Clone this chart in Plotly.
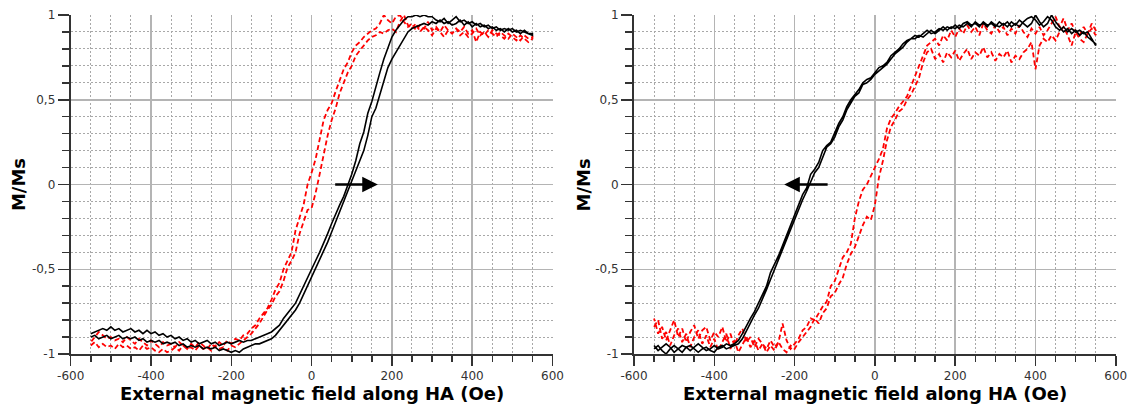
import plotly.graph_objects as go

# Field sweep (Oe)
FIELD = [-550, -540, -530, -520, -510, -500, -490, -480, -470, -460,
         -450, -440, -430, -420, -410, -400, -390, -380, -370, -360,
         -350, -340, -330, -320, -310, -300, -290, -280, -270, -260,
         -250, -240, -230, -220, -210, -200, -190, -180, -170, -160,
         -150, -140, -130, -120, -110, -100, -90, -80, -70, -60,
         -50, -40, -30, -20, -10, 0, 10, 20, 30, 40,
         50, 60, 70, 80, 90, 100, 110, 120, 130, 140,
         150, 160, 170, 180, 190, 200, 210, 220, 230, 240,
         250, 260, 270, 280, 290, 300, 310, 320, 330, 340,
         350, 360, 370, 380, 390, 400, 410, 420, 430, 440,
         450, 460, 470, 480, 490, 500, 510, 520, 530, 540,
         550]

# ---- Left panel, black loop ----
L_BLACK_DOWN = [-0.88, -0.87, -0.86, -0.85, -0.86, -0.84, -0.86, -0.85, -0.87, -0.86,
                -0.85, -0.87, -0.86, -0.88, -0.86, -0.88, -0.87, -0.89, -0.88, -0.90,
                -0.89, -0.91, -0.90, -0.92, -0.91, -0.93, -0.92, -0.94, -0.93, -0.92,
                -0.94, -0.93, -0.95, -0.94, -0.93, -0.94, -0.93, -0.92, -0.93, -0.92,
                -0.92, -0.91, -0.90, -0.89, -0.88, -0.87, -0.85, -0.83, -0.79, -0.76,
                -0.73, -0.70, -0.65, -0.60, -0.55, -0.50, -0.45, -0.40, -0.35, -0.29,
                -0.23, -0.17, -0.12, -0.07, -0.01, 0.06, 0.14, 0.24, 0.31, 0.42,
                0.49, 0.57, 0.66, 0.74, 0.81, 0.87, 0.91, 0.94, 0.97, 0.99,
                0.99, 1.00, 0.99, 1.00, 0.99, 0.99, 0.97, 0.96, 0.98, 0.95,
                0.97, 0.99, 0.96, 0.97, 0.95, 0.96, 0.94, 0.95, 0.93, 0.94,
                0.92, 0.93, 0.91, 0.92, 0.91, 0.92, 0.90, 0.91, 0.90, 0.89,
                0.88]
L_BLACK_UP = [-0.90, -0.89, -0.91, -0.90, -0.89, -0.91, -0.90, -0.89, -0.91, -0.90,
              -0.91, -0.90, -0.92, -0.91, -0.93, -0.92, -0.93, -0.92, -0.94, -0.93,
              -0.94, -0.93, -0.95, -0.94, -0.96, -0.95, -0.96, -0.95, -0.97, -0.96,
              -0.97, -0.96, -0.98, -0.97, -0.98, -0.99, -0.98, -0.99, -0.97, -0.96,
              -0.95, -0.94, -0.94, -0.93, -0.92, -0.91, -0.89, -0.86, -0.83, -0.80,
              -0.77, -0.74, -0.70, -0.65, -0.59, -0.54, -0.49, -0.44, -0.39, -0.34,
              -0.28, -0.22, -0.16, -0.11, -0.05, 0.01, 0.07, 0.13, 0.20, 0.29,
              0.40, 0.45, 0.53, 0.62, 0.69, 0.74, 0.78, 0.82, 0.86, 0.90,
              0.92, 0.93, 0.94, 0.95, 0.94, 0.96, 0.95, 0.97, 0.95, 0.96,
              0.94, 0.95, 0.97, 0.94, 0.96, 0.93, 0.95, 0.93, 0.94, 0.92,
              0.93, 0.91, 0.92, 0.90, 0.92, 0.90, 0.91, 0.89, 0.91, 0.89,
              0.89]

# ---- Left panel, red dashed loop ----
L_RED_DOWN = [-0.93, -0.90, -0.87, -0.89, -0.91, -0.90, -0.92, -0.91, -0.93, -0.90,
              -0.92, -0.94, -0.91, -0.93, -0.95, -0.92, -0.94, -0.96, -0.93, -0.95,
              -0.94, -0.96, -0.93, -0.95, -0.97, -0.94, -0.96, -0.93, -0.95, -0.97,
              -0.94, -0.96, -0.93, -0.95, -0.92, -0.94, -0.91, -0.92, -0.89, -0.88,
              -0.85, -0.83, -0.79, -0.76, -0.73, -0.68, -0.62, -0.58, -0.50, -0.45,
              -0.40, -0.27, -0.19, -0.12, 0.00, 0.07, 0.15, 0.27, 0.38, 0.44,
              0.48, 0.55, 0.62, 0.68, 0.72, 0.78, 0.82, 0.84, 0.87, 0.89,
              0.91, 0.92, 0.95, 1.00, 0.97, 0.95, 0.99, 1.00, 0.96, 0.93,
              0.95, 0.91, 0.94, 0.92, 0.96, 0.91, 0.93, 0.90, 0.94, 0.91,
              0.89, 0.92, 0.90, 0.93, 0.89, 0.91, 0.84, 0.90, 0.88, 0.91,
              0.89, 0.87, 0.90, 0.88, 0.86, 0.89, 0.87, 0.85, 0.88, 0.86,
              0.87]
L_RED_UP = [-0.95, -0.93, -0.96, -0.94, -0.96, -0.95, -0.97, -0.94, -0.96, -0.95,
            -0.97, -0.96, -0.98, -0.95, -0.97, -0.96, -0.98, -0.99, -0.97, -0.99,
            -0.98, -0.96, -0.98, -0.95, -0.97, -0.96, -0.98, -0.95, -0.97, -0.96,
            -0.98, -0.95, -0.97, -0.96, -0.98, -0.95, -0.96, -0.94, -0.92, -0.90,
            -0.88, -0.85, -0.82, -0.78, -0.74, -0.71, -0.66, -0.63, -0.57, -0.49,
            -0.45, -0.40, -0.29, -0.22, -0.15, -0.14, -0.05, 0.06, 0.18, 0.29,
            0.38, 0.45, 0.54, 0.60, 0.66, 0.70, 0.76, 0.79, 0.82, 0.85,
            0.87, 0.88, 0.90, 0.89, 0.91, 0.92, 0.90, 0.96, 1.00, 0.94,
            0.92, 0.95, 0.90, 0.93, 0.91, 0.88, 0.92, 0.90, 0.87, 0.91,
            0.89, 0.92, 0.88, 0.90, 0.87, 0.89, 0.92, 0.88, 0.90, 0.87,
            0.91, 0.89, 0.88, 0.86, 0.89, 0.87, 0.85, 0.88, 0.86, 0.84,
            0.86]

# ---- Right panel, black loop ----
R_BLACK_DOWN = [-0.95, -0.98, -0.96, -0.94, -0.96, -0.99, -0.97, -0.95, -0.96, -0.98,
                -0.96, -0.94, -0.96, -0.98, -0.97, -0.95, -0.97, -0.96, -0.94, -0.95,
                -0.94, -0.92, -0.88, -0.84, -0.79, -0.75, -0.71, -0.65, -0.60, -0.52,
                -0.47, -0.42, -0.36, -0.31, -0.24, -0.18, -0.12, -0.06, -0.02, 0.06,
                0.09, 0.13, 0.20, 0.23, 0.25, 0.30, 0.36, 0.40, 0.46, 0.50,
                0.53, 0.56, 0.60, 0.62, 0.63, 0.66, 0.69, 0.70, 0.72, 0.76,
                0.78, 0.80, 0.83, 0.85, 0.86, 0.88, 0.87, 0.89, 0.91, 0.89,
                0.90, 0.92, 0.91, 0.93, 0.92, 0.94, 0.92, 0.95, 0.96, 0.94,
                0.95, 0.93, 0.96, 0.94, 0.95, 0.93, 0.96, 0.94, 0.96, 0.93,
                0.95, 0.93, 0.96, 0.98, 0.99, 0.97, 0.94, 0.96, 0.99, 0.97,
                0.93, 0.91, 0.93, 0.90, 0.92, 0.90, 0.91, 0.89, 0.90, 0.86,
                0.82]
R_BLACK_UP = [-0.97, -0.95, -0.98, -1.00, -0.97, -0.95, -0.97, -0.99, -0.96, -0.95,
              -0.97, -0.99, -0.97, -0.96, -0.98, -0.99, -0.96, -0.95, -0.97, -0.96,
              -0.95, -0.94, -0.91, -0.86, -0.82, -0.77, -0.73, -0.68, -0.62, -0.56,
              -0.50, -0.44, -0.39, -0.33, -0.27, -0.21, -0.15, -0.09, -0.04, 0.02,
              0.07, 0.10, 0.16, 0.22, 0.24, 0.28, 0.34, 0.38, 0.44, 0.48,
              0.52, 0.54, 0.59, 0.60, 0.62, 0.65, 0.67, 0.69, 0.71, 0.74,
              0.77, 0.79, 0.81, 0.84, 0.86, 0.86, 0.88, 0.87, 0.89, 0.91,
              0.89, 0.91, 0.93, 0.91, 0.93, 0.92, 0.94, 0.93, 0.95, 0.93,
              0.96, 0.94, 0.95, 0.93, 0.96, 0.94, 0.93, 0.95, 0.93, 0.96,
              0.94, 0.97, 0.95, 0.93, 0.95, 1.00, 0.96, 0.93, 0.95, 1.00,
              0.96, 0.93, 0.90, 0.92, 0.89, 0.91, 0.88, 0.90, 0.87, 0.85,
              0.83]

# ---- Right panel, red dashed loop ----
R_RED_DOWN = [-0.79, -0.88, -0.84, -0.92, -0.86, -0.80, -0.90, -0.85, -0.93, -0.87,
              -0.83, -0.91, -0.86, -0.84, -0.92, -0.87, -0.90, -0.84, -0.93, -0.88,
              -0.95, -0.89, -0.85, -0.93, -0.90, -0.96, -0.91, -0.94, -0.97, -0.92,
              -0.96, -0.93, -0.82, -0.92, -0.97, -0.94, -0.91, -0.86, -0.84, -0.79,
              -0.80, -0.76, -0.72, -0.69, -0.60, -0.57, -0.50, -0.43, -0.40, -0.35,
              -0.20, -0.10, -0.03, 0.00, 0.04, 0.10, 0.15, 0.21, 0.33, 0.39,
              0.42, 0.46, 0.49, 0.52, 0.58, 0.63, 0.70, 0.76, 0.82, 0.84,
              0.86, 0.82, 0.88, 0.85, 0.91, 0.87, 0.92, 0.89, 0.94, 0.90,
              0.93, 0.88, 0.95, 0.91, 0.89, 0.94, 0.90, 0.93, 0.88, 0.92,
              0.89, 0.94, 0.90, 0.87, 0.92, 0.89, 0.93, 0.88, 0.91, 0.95,
              0.99, 0.93, 0.98, 0.91, 0.95, 0.90, 0.88, 0.93, 0.89, 0.95,
              0.91]
R_RED_UP = [-0.84, -0.80, -0.91, -0.87, -0.95, -0.89, -0.85, -0.93, -0.88, -0.96,
            -0.90, -0.86, -0.94, -0.89, -0.96, -0.91, -0.98, -0.93, -0.88, -0.97,
            -0.92, -0.99, -0.94, -0.90, -0.96, -0.92, -0.98, -0.94, -0.99, -0.95,
            -0.98, -0.93, -0.97, -0.99, -0.95, -0.97, -0.93, -0.90, -0.87, -0.84,
            -0.79, -0.82, -0.76, -0.73, -0.66, -0.64, -0.59, -0.55, -0.47, -0.41,
            -0.37, -0.30, -0.24, -0.19, -0.21, -0.12, 0.04, 0.14, 0.26, 0.34,
            0.38, 0.43, 0.45, 0.50, 0.53, 0.58, 0.63, 0.72, 0.78, 0.80,
            0.74, 0.77, 0.72, 0.78, 0.75, 0.79, 0.73, 0.77, 0.80, 0.74,
            0.78, 0.76, 0.81, 0.75, 0.78, 0.73, 0.77, 0.75, 0.79, 0.72,
            0.76, 0.74, 0.78, 0.80, 0.84, 0.68, 0.82, 0.86, 0.84, 0.88,
            0.85, 0.90, 0.93, 0.88, 0.82, 0.90, 0.86, 0.84, 0.89, 0.92,
            0.88]

X_TICKS = [-600, -400, -200, 0, 200, 400, 600]
X_LABELS = ["-600", "-400", "-200", "0", "200", "400", "600"]
Y_TICKS = [-1, -0.5, 0, 0.5, 1]
Y_LABELS = ["-1", "-0,5", "0", "0,5", "1"]
X_TITLE = "External magnetic field along HA (Oe)"
Y_TITLE = "M/Ms"
ARROW_LEFT = (55, 165)     # tail, tip (Oe) at M/Ms = 0
ARROW_RIGHT = (-114, -226)

for arr in (L_BLACK_DOWN, L_BLACK_UP, L_RED_DOWN, L_RED_UP,
            R_BLACK_DOWN, R_BLACK_UP, R_RED_DOWN, R_RED_UP):
    assert len(arr) == len(FIELD), len(arr)

W, H = 1129, 405
fig = go.Figure()

def loop(up, down):
    return FIELD + FIELD[::-1], up + down[::-1]

black = dict(color="#000000", width=1.6)
red = dict(color="#ff0000", width=1.8, dash="5px,3px")

x, y = loop(L_RED_UP, L_RED_DOWN)
fig.add_trace(go.Scatter(x=x, y=y, mode="lines", line=red, xaxis="x", yaxis="y"))
x, y = loop(L_BLACK_UP, L_BLACK_DOWN)
fig.add_trace(go.Scatter(x=x, y=y, mode="lines", line=black, xaxis="x", yaxis="y"))
x, y = loop(R_RED_UP, R_RED_DOWN)
fig.add_trace(go.Scatter(x=x, y=y, mode="lines", line=red, xaxis="x2", yaxis="y2"))
x, y = loop(R_BLACK_UP, R_BLACK_DOWN)
fig.add_trace(go.Scatter(x=x, y=y, mode="lines", line=black, xaxis="x2", yaxis="y2"))

tickfont = dict(family="DejaVu Sans", size=12, color="#333333")

def xaxis(domain, anchor):
    return dict(domain=domain, anchor=anchor, range=[-600, 600], automargin=False,
                tickmode="array", tickvals=X_TICKS, ticktext=X_LABELS,
                ticklabeloverflow="allow",
                ticks="outside", ticklen=10, tickwidth=1.5, tickcolor="#333333",
                showline=True, linecolor="#333333", linewidth=2,
                showgrid=True, gridcolor="#b4b4b4", gridwidth=1.5,
                zeroline=False, tickfont=tickfont, fixedrange=True,
                minor=dict(tickmode="linear", tick0=0, dtick=50, ticks="outside",
                           ticklen=6, tickwidth=1.5, tickcolor="#333333",
                           showgrid=True, gridcolor="#a8a8a8", gridwidth=1,
                           griddash="2px,2px"))

def yaxis(domain, anchor):
    return dict(domain=domain, anchor=anchor, range=[-1, 1], automargin=False,
                tickmode="array", tickvals=Y_TICKS, ticktext=Y_LABELS,
                ticklabeloverflow="allow",
                ticks="outside", ticklen=11, tickwidth=1.5, tickcolor="#333333",
                showline=True, linecolor="#333333", linewidth=2,
                showgrid=True, gridcolor="#b4b4b4", gridwidth=1.5,
                zeroline=False, tickfont=tickfont, fixedrange=True,
                minor=dict(tickmode="linear", tick0=0, dtick=0.1, ticks="outside",
                           ticklen=7, tickwidth=1.5, tickcolor="#333333",
                           showgrid=True, gridcolor="#a8a8a8", gridwidth=1,
                           griddash="2px,2px"))

ydom = [51 / H, 390 / H]
fig.update_layout(
    width=W, height=H,
    margin=dict(l=0, r=0, t=0, b=0, autoexpand=False),
    paper_bgcolor="white", plot_bgcolor="white",
    showlegend=False,
    xaxis=xaxis([70.7 / W, 552.5 / W], "y"),
    yaxis=yaxis(ydom, "x"),
    xaxis2=xaxis([634.0 / W, 1115.8 / W], "y2"),
    yaxis2=yaxis(ydom, "x2"),
)

titlefont = dict(family="DejaVu Sans", size=18, color="#000000", weight="bold")
for xref, yref, ytitle_x in (("x", "y", 18.6), ("x2", "y2", 583)):
    fig.add_annotation(text=X_TITLE, x=0, xref=xref, y=(H - 393) / H, yref="paper",
                       xanchor="center", yanchor="middle", showarrow=False, font=titlefont)
    fig.add_annotation(text=Y_TITLE, x=ytitle_x / W, xref="paper", y=0, yref=yref,
                       xanchor="center", yanchor="middle", textangle=-90,
                       showarrow=False, font=titlefont)

for (tail, tip), xref, yref in ((ARROW_LEFT, "x", "y"), (ARROW_RIGHT, "x2", "y2")):
    fig.add_annotation(x=tip, y=0, ax=tail, ay=0, xref=xref, yref=yref,
                       axref=xref, ayref=yref, showarrow=True, text="",
                       arrowhead=2, arrowsize=1.25, arrowwidth=2.5, arrowcolor="#000000")

fig.write_html("out.html",
               config={"displayModeBar": False, "staticPlot": True},
               post_script="document.body.style.margin='0px';"
                           "document.body.style.overflow='hidden';")
